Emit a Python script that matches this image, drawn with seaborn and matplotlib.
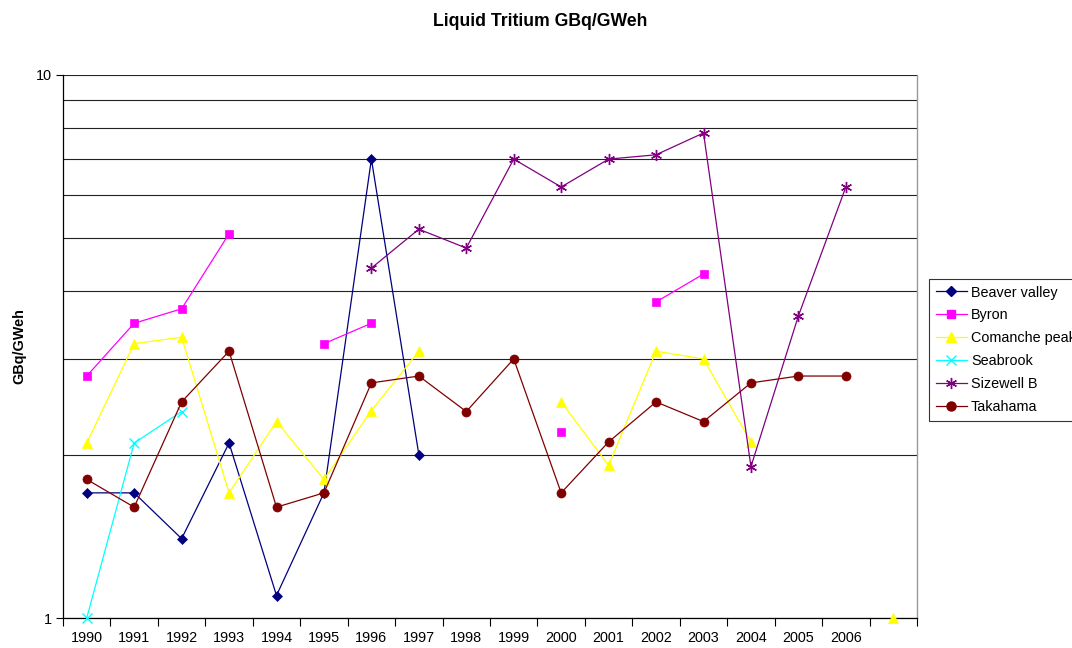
import numpy as np
import pandas as pd
import matplotlib
matplotlib.use("Agg")
import matplotlib.pyplot as plt
import seaborn as sns
from matplotlib.lines import Line2D
from matplotlib.ticker import FixedLocator, NullFormatter

nan = np.nan

# kategorije na x osi (poslednja je prazna, kao u originalu)
years = ["1990", "1991", "1992", "1993", "1994", "1995", "1996", "1997", "1998",
         "1999", "2000", "2001", "2002", "2003", "2004", "2005", "2006", ""]

beaver_valley = [1.70, 1.70, 1.40, 2.10, 1.10, 1.70, 7.00, 2.00, nan,
                 nan, nan, nan, nan, nan, nan, nan, nan, nan]
byron = [2.79, 3.49, 3.71, 5.10, nan, 3.20, 3.49, nan, nan,
         nan, 2.20, nan, 3.82, 4.30, nan, nan, nan, nan]
comanche_peak = [2.10, 3.20, 3.29, 1.70, 2.30, 1.80, 2.41, 3.10, nan,
                 nan, 2.50, 1.91, 3.10, 3.00, 2.11, nan, nan, 1.00]
seabrook = [1.00, 2.10, 2.40, nan, nan, nan, nan, nan, nan,
            nan, nan, nan, nan, nan, nan, nan, nan, nan]
sizewell_b = [nan, nan, nan, nan, nan, nan, 4.41, 5.20, 4.80,
              7.00, 6.22, 7.00, 7.13, 7.82, 1.90, 3.60, 6.22, nan]
takahama = [1.80, 1.60, 2.50, 3.10, 1.60, 1.70, 2.71, 2.79, 2.40,
            3.00, 1.70, 2.11, 2.50, 2.30, 2.71, 2.79, 2.79, nan]

series_names = ["Beaver valley", "Byron", "Comanche peak", "Seabrook", "Sizewell B", "Takahama"]
series_values = [beaver_valley, byron, comanche_peak, seabrook, sizewell_b, takahama]

colors = ["#000080", "#FF00FF", "#FFFF00", "#00FFFF", "#800080", "#800000"]
markers = ["D", "s", "^", "x", (6, 2, 0), "o"]
msizes = [5, 6, 7, 7, 8, 6.5]

# long format; segment id prekida liniju tamo gde nema podatka
rows = []
for name, vals in zip(series_names, series_values):
    seg = 0
    prev_nan = True
    for i, v in enumerate(vals):
        if np.isnan(v):
            prev_nan = True
            continue
        if prev_nan:
            seg += 1
        prev_nan = False
        rows.append({"series": name, "x": i, "value": v, "seg": f"{name}_{seg}"})
df = pd.DataFrame(rows)

plt.rcParams["font.family"] = ["Liberation Sans", "DejaVu Sans"]

fig = plt.figure(figsize=(10.72, 6.48), dpi=100)
ax = fig.add_axes([63 / 1072, 1 - 618 / 648, (917 - 63) / 1072, (618 - 75) / 648])

for k, name in enumerate(series_names):
    sub = df[df["series"] == name]
    sns.lineplot(data=sub, x="x", y="value", units="seg", estimator=None,
                 color=colors[k], marker=markers[k], markersize=msizes[k],
                 markeredgecolor=colors[k], markeredgewidth=1.0 if k in (3, 4) else 0.5,
                 linewidth=0.9, ax=ax, legend=False, zorder=3 + k, sort=False,
                 clip_on=False)

ax.set_yscale("log")
ax.set_ylim(1, 10)
ax.set_xlim(-0.5, len(years) - 0.5)

# y ose: samo 1 i 10, mreza na 2..9
ax.yaxis.set_major_locator(FixedLocator([1, 10]))
ax.set_yticklabels(["1", "10"])
ax.yaxis.set_minor_locator(FixedLocator([2, 3, 4, 5, 6, 7, 8, 9]))
ax.yaxis.set_minor_formatter(NullFormatter())
ax.tick_params(axis="y", which="major", length=5, width=0.8, labelsize=10.4, pad=3)
ax.tick_params(axis="y", which="minor", length=0)
ax.grid(axis="y", which="both", color="#222222", linewidth=0.8)
ax.set_axisbelow(True)

# x ose: crtice na granicama kategorija, oznake u sredini
ax.xaxis.set_major_locator(FixedLocator(np.arange(-0.5, len(years), 1.0)))
ax.xaxis.set_major_formatter(NullFormatter())
ax.xaxis.set_minor_locator(FixedLocator(np.arange(len(years))))
ax.set_xticklabels(years, minor=True)
ax.tick_params(axis="x", which="major", length=6, width=0.8)
ax.tick_params(axis="x", which="minor", length=0, labelsize=10.4, pad=9)

for side in ["left", "bottom"]:
    ax.spines[side].set_color("black")
    ax.spines[side].set_linewidth(0.9)
ax.spines["right"].set_color("#999999")
ax.spines["right"].set_linewidth(1.0)
ax.spines["top"].set_visible(False)

ax.set_xlabel("")
ax.set_ylabel("GBq/GWeh", fontsize=10.4, fontweight="bold", labelpad=7)

fig.text(0.504, 1 - 22 / 648, "Liquid Tritium GBq/GWeh", ha="center", va="center",
         fontsize=12.7, fontweight="bold")

handles = [Line2D([0], [0], color=c, marker=m, markersize=s, markeredgecolor=c,
                  linewidth=0.9)
           for c, m, s in zip(colors, markers, msizes)]
leg = fig.legend(handles, series_names, loc="upper left",
                 bbox_to_anchor=(929 / 1072, 1 - 279 / 648),
                 fontsize=10.4, frameon=True, fancybox=False, handlelength=2.2,
                 handletextpad=0.25, labelspacing=0.62, borderpad=0.45,
                 borderaxespad=0)
leg.get_frame().set_edgecolor("black")
leg.get_frame().set_linewidth(0.8)

fig.savefig("out.png", dpi=100)
